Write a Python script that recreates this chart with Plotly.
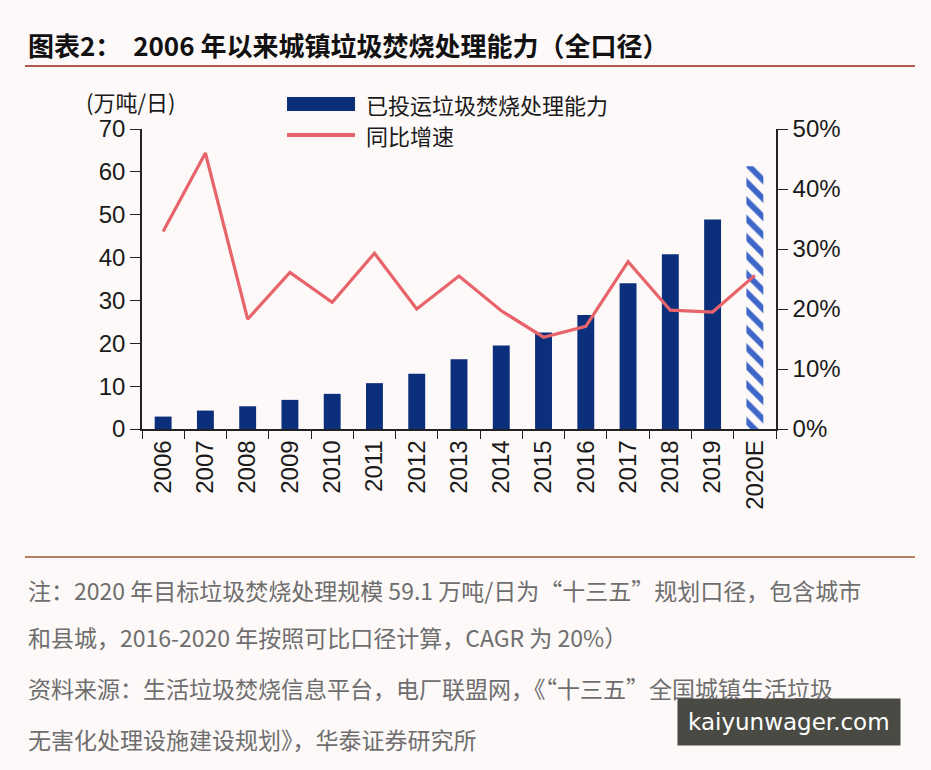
import plotly.graph_objects as go

years = ["2006", "2007", "2008", "2009", "2010", "2011", "2012", "2013",
         "2014", "2015", "2016", "2017", "2018", "2019", "2020E"]
capacity = [2.9, 4.3, 5.3, 6.8, 8.2, 10.7, 12.9, 16.3, 19.5, 22.5, 26.6, 34.0, 40.8, 48.9, 61.3]
growth = [0.329, 0.460, 0.183, 0.261, 0.211, 0.293, 0.200, 0.255, 0.197, 0.153,
          0.171, 0.279, 0.198, 0.195, 0.256]

left_ticks = [0, 10, 20, 30, 40, 50, 60, 70]
right_ticks = [0, 0.1, 0.2, 0.3, 0.4, 0.5]

NAVY = "#0c2f7c"
RED = "#e8646b"
BG = "#fdf9f8"
HATCH = "#3d66c8"
CJK = "Noto Sans CJK SC"
LAT = "Liberation Sans"

W, H = 931, 770
X0, X1, YB, YT = 142, 776, 429, 129


def px(x):
    return (x - X0) / (X1 - X0)


def py(y):
    return (YB - y) / (YB - YT)


fig = go.Figure()
fig.add_trace(go.Bar(
    x=years[:-1], y=capacity[:-1], name="已投运垃圾焚烧处理能力",
    marker=dict(color=NAVY, line=dict(width=0)),
    showlegend=False,
))
fig.add_trace(go.Bar(
    x=years[-1:], y=capacity[-1:], name="2020E",
    marker=dict(color="#f3f6fc", line=dict(width=0),
                pattern=dict(shape="\\", fgcolor=HATCH, fillmode="replace",
                             size=13, solidity=0.45)),
    showlegend=False,
))
fig.add_trace(go.Scatter(
    x=years, y=growth, name="同比增速", yaxis="y2", mode="lines",
    line=dict(color=RED, width=3.2), showlegend=False,
))

fig.update_layout(
    width=W, height=H, autosize=False,
    margin=dict(l=X0, r=W - X1, t=YT, b=H - YB, pad=0),
    paper_bgcolor=BG, plot_bgcolor=BG,
    barmode="overlay", bargap=0.6,
    font=dict(family=LAT, size=23, color="#1a1a1a"),
    xaxis=dict(type="category", categoryorder="array", categoryarray=years,
               tickangle=-90, showline=True, linecolor="#222",
               linewidth=1.5, ticks="outside", ticklen=8, tickcolor="#222",
               tickson="boundaries", showgrid=False, zeroline=False,
               tickfont=dict(family=LAT, size=24, color="#1a1a1a")),
    yaxis=dict(range=[0, 70], tickvals=left_ticks, showline=True, linecolor="#222",
               linewidth=1.5, ticks="outside", ticklen=10, tickcolor="#222",
               showgrid=False, zeroline=False,
               tickfont=dict(family=LAT, size=24, color="#1a1a1a")),
    yaxis2=dict(range=[0, 0.5], tickvals=right_ticks, tickformat=".0%",
                overlaying="y", side="right", showline=True, linecolor="#222",
                linewidth=1.5, ticks="outside", ticklen=10, tickcolor="#222",
                showgrid=False, zeroline=False,
                tickfont=dict(family=LAT, size=24, color="#1a1a1a")),
)

shapes = [
    dict(type="line", xref="paper", yref="paper", x0=px(25), x1=px(915),
         y0=py(66), y1=py(66), line=dict(color="#b0574f", width=2)),
    dict(type="line", xref="paper", yref="paper", x0=px(25), x1=px(915),
         y0=py(557), y1=py(557), line=dict(color="#b88060", width=2)),
    # legend swatches
    dict(type="rect", xref="paper", yref="paper", x0=px(287), x1=px(355),
         y0=py(111), y1=py(97), fillcolor=NAVY, line=dict(width=0)),
    dict(type="line", xref="paper", yref="paper", x0=px(287), x1=px(355),
         y0=py(135), y1=py(135), line=dict(color=RED, width=4)),
]

annots = [
    dict(text="<b>图表2：  2006 年以来城镇垃圾焚烧处理能力（全口径）</b>",
         x=px(26), y=py(45), font=dict(family=CJK, size=26, color="#111")),
    dict(text="(万吨/日)", x=px(84), y=py(101), font=dict(family=CJK, size=22, color="#1a1a1a")),
    dict(text="已投运垃圾焚烧处理能力", x=px(364), y=py(104), font=dict(family=CJK, size=22, color="#1a1a1a")),
    dict(text="同比增速", x=px(364), y=py(135), font=dict(family=CJK, size=22, color="#1a1a1a")),
    dict(text="注：2020 年目标垃圾焚烧处理规模 59.1 万吨/日为“十三五”规划口径，包含城市",
         x=px(26), y=py(590), font=dict(family=CJK, size=23, color="#6e6e6e")),
    dict(text="和县城，2016-2020 年按照可比口径计算，CAGR 为 20%）",
         x=px(26), y=py(637), font=dict(family=CJK, size=23, color="#6e6e6e")),
    dict(text="资料来源：生活垃圾焚烧信息平台，电厂联盟网，《“十三五”全国城镇生活垃圾",
         x=px(26), y=py(688), font=dict(family=CJK, size=23, color="#6e6e6e")),
    dict(text="无害化处理设施建设规划》，华泰证券研究所",
         x=px(26), y=py(739), font=dict(family=CJK, size=23, color="#6e6e6e")),
]
ann_objs = []
for a in annots:
    ann_objs.append(dict(xref="paper", yref="paper", xanchor="left", yanchor="middle",
                         showarrow=False, **a))
ann_objs.append(dict(text="kaiyunwager.com", xref="paper", yref="paper",
                     x=px(789), y=py(722), xanchor="center", yanchor="middle",
                     showarrow=False, bgcolor="#4a4a44", borderpad=10,
                     font=dict(family="DejaVu Sans", size=23, color="#ffffff")))

fig.update_layout(shapes=shapes, annotations=ann_objs)

fig.write_html("out.html")
